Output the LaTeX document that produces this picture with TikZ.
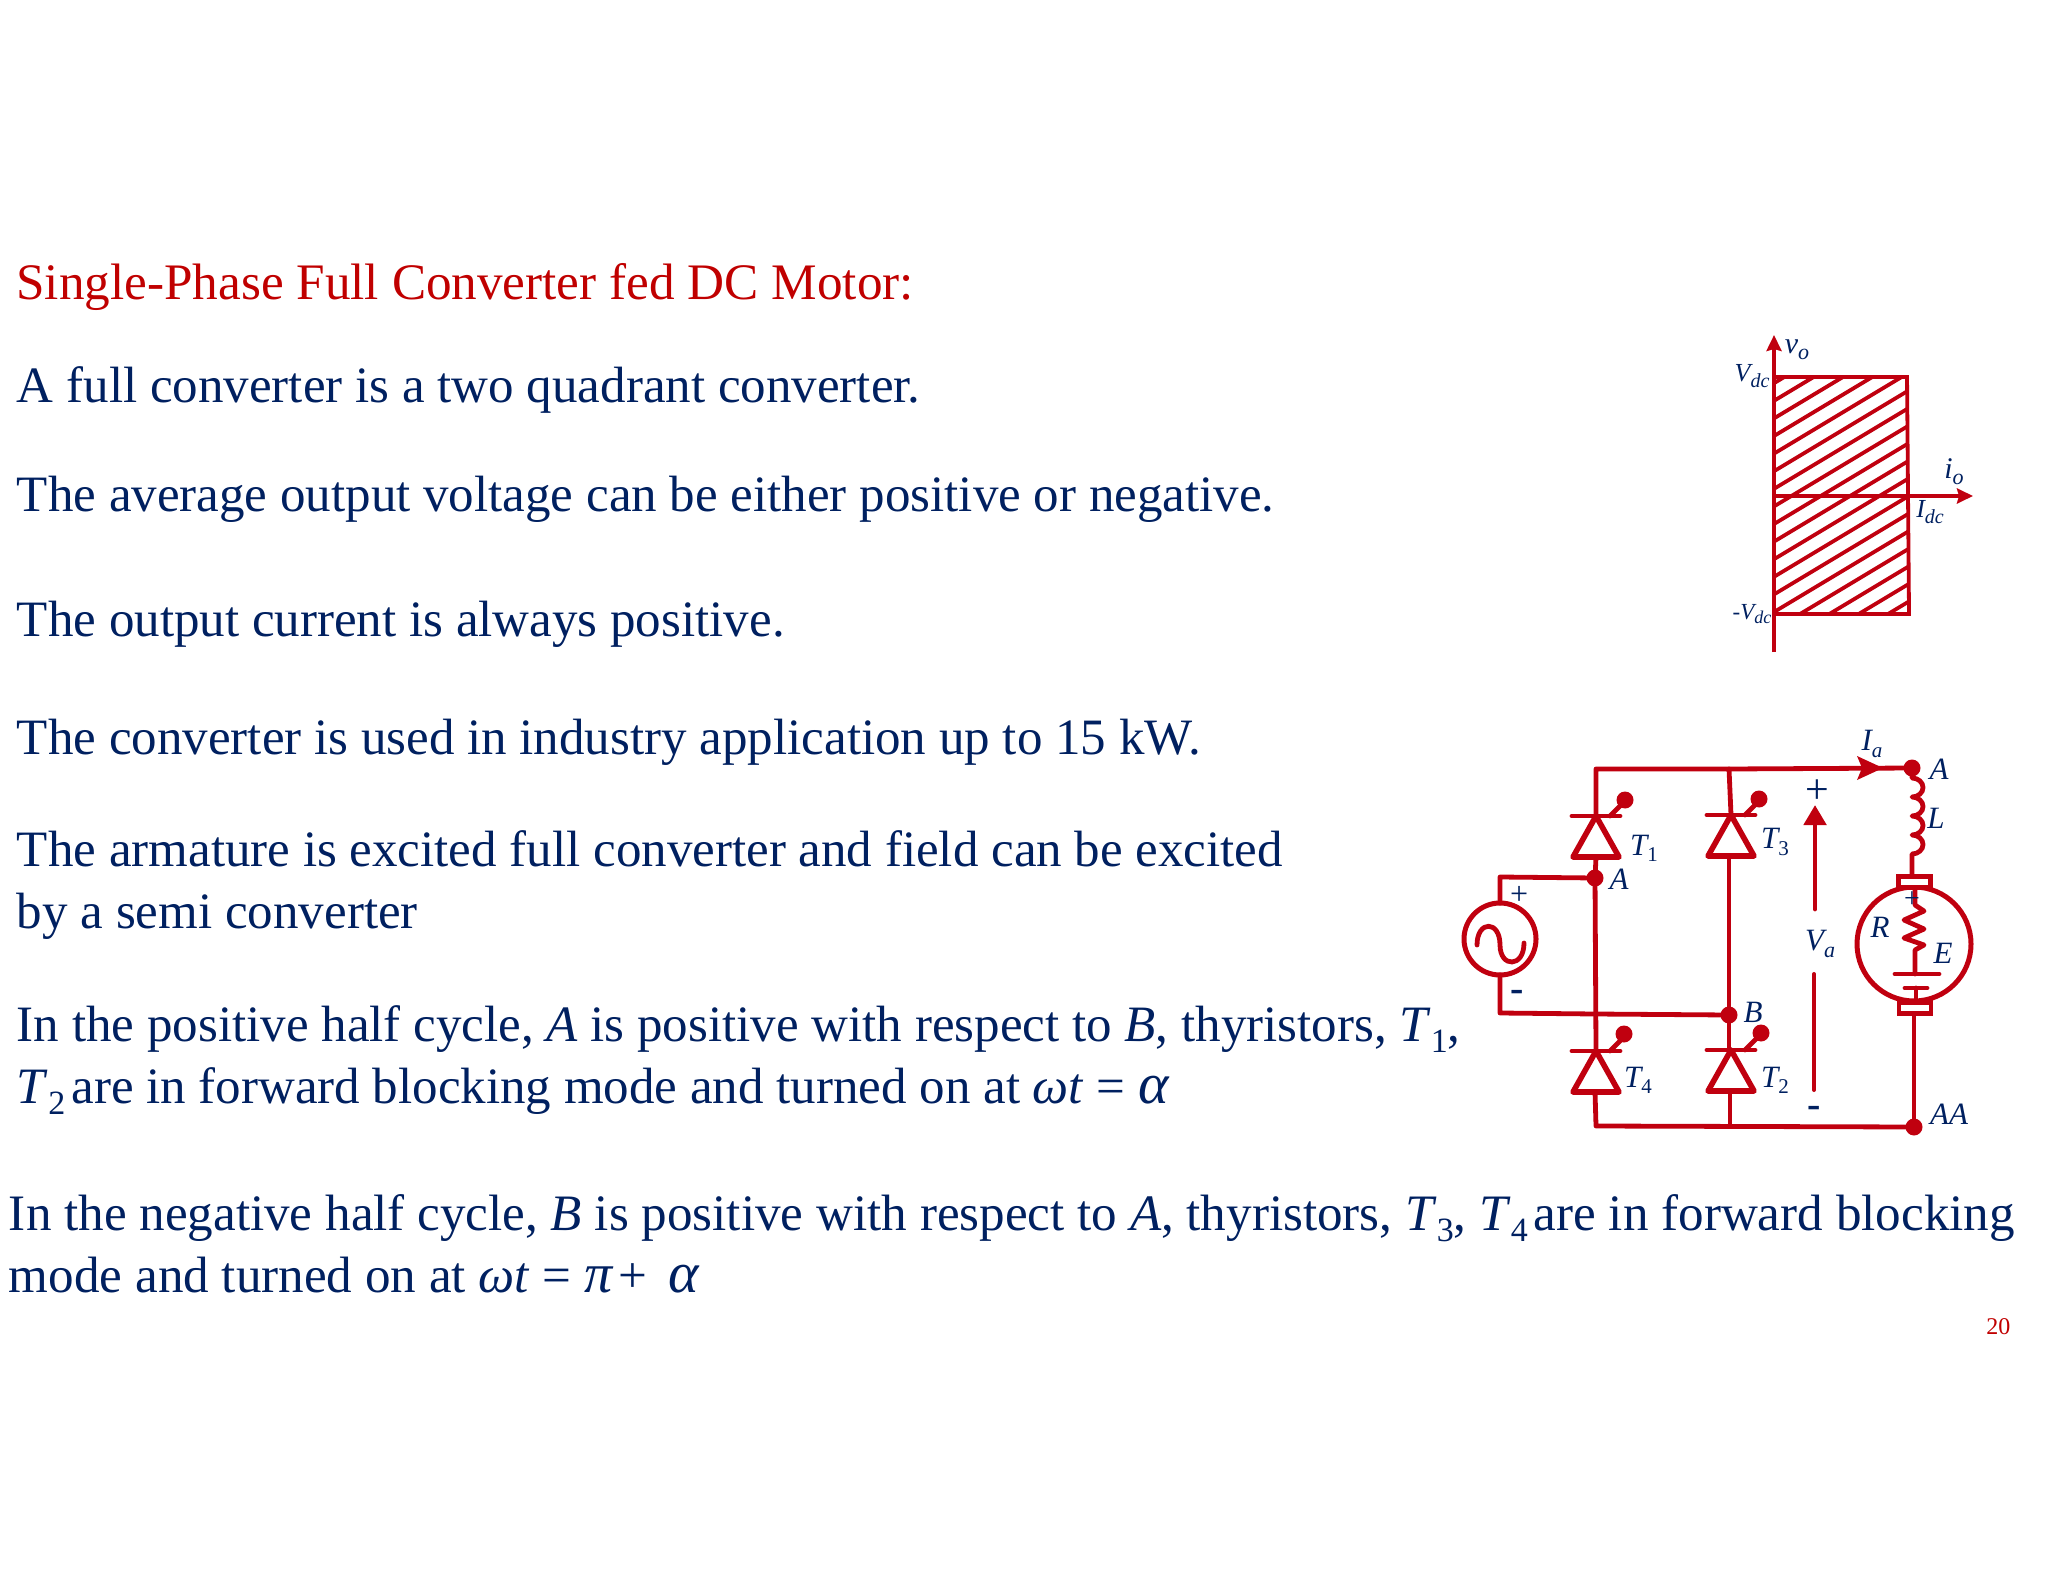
\documentclass[tikz,border=0pt]{standalone}
\usepackage{fontspec}
\setmainfont{Liberation Serif}
\usetikzlibrary{arrows.meta}
\definecolor{navy}{HTML}{002060}
\definecolor{cred}{HTML}{C0000F}
\definecolor{hred}{HTML}{C00000}
\newcommand{\sbs}[1]{\raisebox{-0.22em}{\fontsize{17}{17}\selectfont #1}}
\newcommand{\dsub}[2]{\raisebox{-0.2em}{\fontsize{#2}{#2}\selectfont\itshape #1}}
\newcommand{\usub}[2]{\raisebox{-0.2em}{\fontsize{#2}{#2}\selectfont\upshape #1}}
\newcommand{\bigalpha}{{\fontsize{29}{29}\selectfont\itshape α}}
\newcommand{\bigpi}{{\fontsize{28}{28}\selectfont\itshape π}}
\tikzset{
  x=0.5pt,y=-0.5pt,
  body/.style={anchor=base west,inner sep=0pt,outer sep=0pt,text=navy,font=\fontsize{25.5}{25.5}\selectfont},
  headline/.style={body,text=hred,font=\fontsize{25.6}{25.6}\selectfont},
  wideline/.style={body,font=\fontsize{25.55}{25.55}\selectfont},
  lab/.style={anchor=center,inner sep=0pt,outer sep=0pt,text=navy,font=\fontsize{15.5}{15.5}\selectfont\itshape},
  glab/.style={lab,font=\fontsize{13}{13}\selectfont\itshape},
  wire/.style={draw=cred,line width=2.4pt,line join=round,line cap=round},
  gline/.style={draw=cred,line width=1.9pt},
  dotn/.style={circle,fill=cred,inner sep=0pt,outer sep=0pt,minimum size=8.5pt},
  gatedot/.style={circle,fill=cred,inner sep=0pt,outer sep=0pt,minimum size=8.5pt},
  termbox/.style={draw=cred,line width=2.2pt,fill=white,inner sep=0pt,outer sep=0pt,minimum width=16pt,minimum height=5.5pt},
  tip/.style={-{Stealth[length=8pt,width=7.5pt,inset=1pt]}},
  thy/.pic={
    \draw[wire] (-24,0) -- (24,0);
    \draw[wire,line width=2.8pt] (0,0) -- (-23,41) -- (23,41) -- cycle;
    \draw[wire] (14,0) -- (28,-14);
  }
}
\begin{document}
\begin{tikzpicture}
\useasboundingbox (0,0) rectangle (2048,1582);
% --- text
\node[headline] (t0) at (16.5,299.5) {Single-Phase Full Converter fed DC Motor:};
\node[body] (t1) at (17,402.5) {A full converter is a two quadrant converter.};
\node[body] (t2) at (17,511.5) {The average output voltage can be either positive or negative.};
\node[body] (t3) at (17,636.5) {The output current is always positive.};
\node[body] (t4) at (17,754.5) {The converter is used in industry application up to 15 kW.};
\node[body] (t5) at (17,866.5) {The armature is excited full converter and field can be excited};
\node[body] (t6) at (17,928.5) {by a semi converter};
\node[body] (t7) at (17,1041.5) {In the positive half cycle, \textit{A} is positive with respect to \textit{B}, thyristors, \textit{T}\sbs{1},};
\node[body] (t8) at (17,1103.5) {\textit{T}\sbs{2}\hspace{3pt}are in forward blocking mode and turned on at \textit{ωt} = \bigalpha};
\node[wideline] (t9) at (9,1230) {In the negative half cycle, \textit{B} is positive with respect to \textit{A}, thyristors, \textit{T}\sbs{3}, \textit{T}\sbs{4}\hspace{3pt}are in forward blocking};
\node[wideline] (t10) at (9,1292) {mode and turned on at \textit{ωt} = \bigpi\hspace{3pt}+\hspace{10.5pt}\bigalpha};
\node[anchor=base west,inner sep=0pt,text=hred,font=\fontsize{12}{12}\selectfont] (pg) at (1986,1334) {20};
% --- quadrant graph
\coordinate (o) at (1774,496);
\coordinate (vbot) at (1774,652);
\coordinate (vtop) at (1774,335);
\coordinate (itip) at (1973,496);
\coordinate (tl) at (1774,377);
\coordinate (tr) at (1907,377);
\coordinate (br) at (1909,614);
\coordinate (bl) at (1774,614);
\begin{scope}
  \clip (tl) -- (tr) -- (br) -- (bl) -- cycle;
  \foreach \k in {-7,...,20}{
    \draw[gline] (1774,{612-17.6*\k}) -- (1974,{612-17.6*\k-120});
  }
\end{scope}
\draw[gline] (tl) -- (tr) -- (br) -- (bl);
\draw[gline,tip] (o) -- (itip);
\draw[gline,tip] (vbot) -- (vtop);
\node[glab,font=\fontsize{15}{15}\selectfont\itshape] (lvo) at (1797,350) {v\dsub{o}{11}};
\node[glab] (lvd) at (1752,376) {V\dsub{dc}{10}};
\node[glab,font=\fontsize{15}{15}\selectfont\itshape] (lio) at (1954,472) {i\dsub{o}{11}};
\node[glab] (lid) at (1930,512) {I\dsub{dc}{10}};
\node[glab,font=\fontsize{11.5}{11.5}\selectfont\itshape] (lmv) at (1752,614) {\textup{-}V\dsub{dc}{9}};
% --- bridge
\node[dotn] (A) at (1595,878) {};
\node[dotn] (B) at (1729,1015) {};
\node[dotn] (AP) at (1912,768) {};
\node[dotn] (AA) at (1914,1127) {};
\coordinate (TL) at (1596,769);
\coordinate (TM) at (1729,769);
\coordinate (BL) at (1596,1126);
\coordinate (BM) at (1730,1126);
\coordinate (X) at (1595,1014);
\coordinate (j1) at (1500,877);
\coordinate (j2) at (1500,1013);
\coordinate (g1) at (1596,816);
\coordinate (g3) at (1731,815);
\coordinate (g4) at (1596,1051);
\coordinate (g2) at (1731,1050);
\pic at (g1) {thy};
\pic at (g3) {thy};
\pic at (g4) {thy};
\pic at (g2) {thy};
\node[gatedot] (d1) at (1625,800) {};
\node[gatedot] (d3) at (1759,799) {};
\node[gatedot] (d4) at (1624,1034) {};
\node[gatedot] (d2) at (1761,1033) {};
\node[circle,draw=cred,line width=2.5pt,inner sep=0pt,outer sep=0pt,minimum size=36pt] (src) at (1500,939) {};
\draw[wire] (src.north) -- (j1) -- (A.center);
\draw[wire] (src.south) -- (j2) -- (X) -- (B.center);
\draw[wire] (1477,945) .. controls (1477,920) and (1500,920) .. (1500,945) .. controls (1500,968) and (1524,968) .. (1524,943);
\draw[wire] (g1) -- (TL) -- (TM) -- (g3);
\draw[wire] (A.center) -- (1596,857);
\draw[wire] (A.center) -- (g4);
\draw[wire] (1729,857) -- (B.center) -- (1729,1050);
\draw[wire] (1595,1092) -- (BL) -- (AA.center);
\draw[wire] (BM) -- (1730,1091);
\draw[wire] (TM) -- (AP.center);
\draw[draw=none,fill=cred] (1883,768) -- (1857,756) -- (1862,768) -- (1857,780) -- cycle;
% --- motor branch
\node[circle,draw=cred,line width=2.5pt,inner sep=0pt,outer sep=0pt,minimum size=57pt] (mot) at (1914,944) {};
\node[termbox] (mt) at (1914.5,882) {};
\node[termbox] (mb) at (1915,1008) {};
\draw[wire] (AP.center) -- (1912,778) arc[start angle=90,end angle=-90,x radius=5.5pt,y radius=4.75pt]
  arc[start angle=90,end angle=-90,x radius=5.5pt,y radius=4.75pt]
  arc[start angle=90,end angle=-90,x radius=5.5pt,y radius=4.75pt]
  arc[start angle=90,end angle=-90,x radius=5.5pt,y radius=4.75pt] -- (mt.north -| 1912,0);
\draw[wire] (mt.south -| 1915,0) -- (1915,905) -- (1924,911) -- (1904,920) -- (1924,929) -- (1904,938) -- (1924,945) -- (1915,950) -- (1915,974);
\draw[wire] (1895,974) -- (1939,974);
\draw[wire] (1905,988) -- (1927,988);
\draw[wire] (1916,988) -- (mb.north -| 1916,0);
\draw[wire] (mb.south -| 1914,0) -- (AA.center);
% --- Va
\coordinate (vlow) at (1815,909);
\coordinate (vhigh) at (1815,805);
\coordinate (w1) at (1814,974);
\coordinate (w2) at (1814,1090);
\draw[wire,-{Triangle[length=10pt,width=11pt]}] (vlow) -- (vhigh);
\draw[wire,line width=2pt] (w1) -- (w2);
% --- labels
\node[lab] (lT1) at (1644,848) {T\usub{1}{10.5}};
\node[lab] (lT3) at (1775,842) {T\usub{3}{10.5}};
\node[lab] (lT4) at (1638,1080) {T\usub{4}{10.5}};
\node[lab] (lT2) at (1775,1080) {T\usub{2}{10.5}};
\node[lab] (lA) at (1619,879) {A};
\node[lab] (lB) at (1753,1012) {B};
\node[lab] (lAp) at (1939,769) {A};
\node[lab] (lL) at (1936,818) {L};
\node[lab] (lIa) at (1872,744) {I\dsub{a}{10.5}};
\node[lab] (lVa) at (1820,944) {V\dsub{a}{11}};
\node[lab] (lR) at (1880,927) {R};
\node[lab] (lE) at (1943,953) {E};
\node[lab] (lAA) at (1949,1114) {AA};
\node[lab,font=\fontsize{16}{16}\selectfont\upshape] (pl1) at (1519,895) {+};
\node[lab,font=\fontsize{20}{20}\selectfont\bfseries] (mi1) at (1517,996) {\textup{-}};
\node[lab,font=\fontsize{21}{21}\selectfont\upshape] (pl2) at (1817,792) {+};
\node[lab,font=\fontsize{20}{20}\selectfont\bfseries] (mi2) at (1814,1112) {\textup{-}};
\node[lab,font=\fontsize{14}{14}\selectfont\upshape] (pl3) at (1912,900) {+};
\end{tikzpicture}
\end{document}
